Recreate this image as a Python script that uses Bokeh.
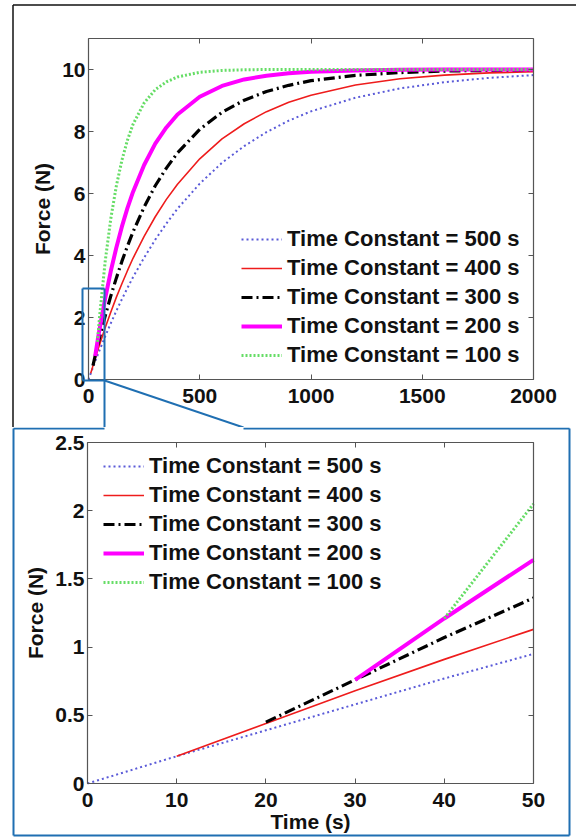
from bokeh.plotting import figure
from bokeh.models import Range1d, LinearAxis, FixedTicker, Legend, LegendItem, PolyAnnotation
from bokeh.layouts import column
from bokeh.embed import file_html
from bokeh.resources import INLINE

# ---------------- data ----------------
grid = [50, 75, 100, 125, 150, 175, 200, 250, 300, 350, 400, 500, 600, 700,
        800, 900, 1000, 1200, 1400, 1600, 1800, 2000]

t_500 = [0, 10, 20, 30, 40] + grid
f_500 = [0, 0.20, 0.39, 0.58, 0.77, 0.95, 1.39, 1.81, 2.21, 2.59, 2.95, 3.30, 3.93,
         4.51, 5.03, 5.51, 6.32, 6.99, 7.53, 7.98, 8.35, 8.65, 9.09, 9.39, 9.59, 9.73, 9.82]

t_400 = [10, 20, 30, 40] + grid
f_400 = [0.20, 0.44, 0.68, 0.91, 1.13, 1.67, 2.17, 2.65, 3.09, 3.51, 3.91, 4.62, 5.25,
         5.81, 6.30, 7.12, 7.76, 8.25, 8.64, 8.94, 9.17, 9.50, 9.70, 9.82, 9.89, 9.93]

t_300 = [20, 30, 40] + grid
f_300 = [0.45, 0.76, 1.07, 1.36, 2.05, 2.69, 3.27, 3.81, 4.30, 4.76, 5.56, 6.25, 6.82,
         7.31, 8.07, 8.62, 9.01, 9.29, 9.49, 9.64, 9.81, 9.90, 9.95, 9.97, 9.99]

t_200 = [30, 40] + grid
f_200 = [0.76, 1.21, 1.64, 2.62, 3.49, 4.25, 4.93, 5.53, 6.05, 6.92, 7.61, 8.13, 8.55,
         9.12, 9.47, 9.68, 9.80, 9.88, 9.93, 9.97, 9.99, 10.0, 10.0, 10.0]

t_100 = [40] + grid
f_100 = [1.21, 2.05, 3.81, 5.18, 6.24, 7.07, 7.72, 8.23, 8.92, 9.35, 9.60, 9.76, 9.91,
         9.97, 9.99, 10.0, 10.0, 10.0, 10.0, 10.0, 10.0, 10.0, 10.0]

series_labels = ["Time Constant = 500 s", "Time Constant = 400 s", "Time Constant = 300 s",
                 "Time Constant = 200 s", "Time Constant = 100 s"]

top_xlim = (0, 2000)
top_ylim = (0, 11)
top_xticks = [0, 500, 1000, 1500, 2000]
top_yticks = [0, 2, 4, 6, 8, 10]

bot_xlim = (0, 50)
bot_ylim = (0, 2.5)
bot_xticks = [0, 10, 20, 30, 40, 50]
bot_yticks = [0, 0.5, 1, 1.5, 2, 2.5]
bot_ytick_labels = ["0", "0.5", "1", "1.5", "2", "2.5"]

FONT = "Liberation Sans"
BLUE = "#1f6fb2"
AXC = "#555555"

styles = [
    dict(color="#5a5ad8", line_width=2, line_dash="2 3"),
    dict(color="#ee1c1c", line_width=1.6, line_dash="solid"),
    dict(color="#000000", line_width=3.2, line_dash="11 4 2 4"),
    dict(color="#ff00ff", line_width=4, line_dash="solid"),
    dict(color="#66dd66", line_width=3, line_dash="2 2"),
]
data = [(t_500, f_500), (t_400, f_400), (t_300, f_300), (t_200, f_200), (t_100, f_100)]


def frame_ranges(xlim, ylim, W, H, left, right, top, bottom):
    """Extend data limits so that the plotting box lands at the given pixel margins
    of a canvas whose frame covers the whole figure."""
    sx = (W - left - right) / (xlim[1] - xlim[0])
    sy = (H - top - bottom) / (ylim[1] - ylim[0])
    xr = Range1d(xlim[0] - left / sx, xlim[1] + right / sx)
    yr = Range1d(ylim[0] - bottom / sy, ylim[1] + top / sy)
    return xr, yr


def make_fig(W, H, xlim, ylim, margins, xticks, yticks, ylabel_over=None, xlabel=None):
    xr, yr = frame_ranges(xlim, ylim, W, H, *margins)
    p = figure(width=W, height=H, output_backend="svg", toolbar_location=None,
               x_range=xr, y_range=yr, min_border=0,
               min_border_left=0, min_border_right=0, min_border_top=0, min_border_bottom=0)
    p.xgrid.visible = False
    p.ygrid.visible = False
    p.outline_line_color = None
    common = dict(major_tick_in=5, major_tick_out=0, minor_tick_line_color=None,
                  axis_line_color=AXC, axis_line_width=1.2, major_tick_line_color=AXC)
    for ax in p.xaxis + p.yaxis:
        ax.update(**common)
        ax.major_label_text_font = FONT
        ax.major_label_text_font_style = "bold"
        ax.major_label_text_font_size = "21px"
        ax.major_label_text_color = "#111111"
        ax.axis_label_text_font = FONT
        ax.axis_label_text_font_style = "bold"
        ax.axis_label_text_font_size = "21px"
        ax.axis_label_text_color = "#111111"
    p.xaxis.fixed_location = ylim[0]
    p.yaxis.fixed_location = xlim[0]
    p.xaxis.bounds = xlim
    p.yaxis.bounds = ylim
    p.xaxis.ticker = FixedTicker(ticks=xticks)
    p.yaxis.ticker = FixedTicker(ticks=yticks)
    p.xaxis.major_label_standoff = 9
    p.yaxis.major_label_standoff = 3
    p.yaxis.axis_label = "Force (N)"
    p.yaxis.axis_label_standoff = 5
    if ylabel_over:
        p.yaxis.major_label_overrides = ylabel_over
    if xlabel:
        p.xaxis.axis_label = xlabel
        p.xaxis.axis_label_standoff = 0
    # mirrored box edges with inward ticks (no labels)
    ax_top = LinearAxis(ticker=FixedTicker(ticks=xticks), fixed_location=ylim[1], bounds=xlim,
                        major_label_text_color=None, **common)
    ax_right = LinearAxis(ticker=FixedTicker(ticks=yticks), fixed_location=xlim[1], bounds=ylim,
                          major_label_text_color=None, **common)
    p.add_layout(ax_top, "above")
    p.add_layout(ax_right, "right")
    return p


def add_series(p, tmax):
    rends = []
    for (t, f), st in zip(data, styles):
        tt = [a for a in t if a <= tmax]
        ff = [b for a, b in zip(t, f) if a <= tmax]
        r = p.line(tt, ff, line_color=st["color"], line_width=st["line_width"],
                   line_dash=st["line_dash"])
        rends.append(r)
    return rends


def add_legend(p, rends, loc):
    items = [LegendItem(label=lab, renderers=[r]) for lab, r in zip(series_labels, rends)]
    lg = Legend(items=items, location=loc, padding=0, margin=0, spacing=3,
                glyph_width=41, glyph_height=26, label_height=26, label_standoff=5,
                label_text_font=FONT, label_text_font_style="bold",
                label_text_font_size="22px", label_text_color="#111111",
                border_line_color=None, background_fill_alpha=0)
    p.add_layout(lg, "center")


def seg(p, x0, y0, x1, y1, color, width):
    p.add_layout(PolyAnnotation(xs=[x0, x1], ys=[y0, y1], xs_units="canvas", ys_units="canvas",
                                line_color=color, line_alpha=1.0, line_width=width,
                                fill_alpha=0, fill_color=None, level="overlay"))


# ---------------- top figure ----------------
TW, TH = 576, 427
top = make_fig(TW, TH, top_xlim, top_ylim, (88, 43, 38, 48), top_xticks, top_yticks)
r_top = add_series(top, top_xlim[1])
add_legend(top, r_top, (241, 59))

# black frame around upper panel
seg(top, 12.5, 4.5, 576, 4.5, "#111111", 1.5)
seg(top, 12.5, 4.5, 12.5, 427, "#111111", 1.5)
# small zoom box and callout lines
seg(top, 82, 288, 104, 288, BLUE, 2)
seg(top, 82, 288, 82, 380, BLUE, 2)
seg(top, 82, 380, 104, 380, BLUE, 2)
seg(top, 104, 288, 104, 427, BLUE, 2)
seg(top, 104, 380, 243, 427, BLUE, 2)

# ---------------- bottom figure ----------------
BW, BH = 576, 410
bot = make_fig(BW, BH, bot_xlim, bot_ylim, (87, 43, 15, 54), bot_xticks, bot_yticks,
               ylabel_over=dict(zip(bot_yticks, bot_ytick_labels)), xlabel="Time (s)")
r_bot = add_series(bot, bot_xlim[1])
add_legend(bot, r_bot, (103, 242))

# blue frame of lower panel
seg(bot, 104, 1, 13, 1, BLUE, 2)
seg(bot, 13, 1, 13, 408, BLUE, 2)
seg(bot, 13, 408, 569, 408, BLUE, 2)
seg(bot, 569, 408, 569, 1, BLUE, 2)
seg(bot, 569, 1, 243, 1, BLUE, 2)

layout = column(top, bot, spacing=0)

open("out.html", "w").write(file_html(layout, INLINE))
